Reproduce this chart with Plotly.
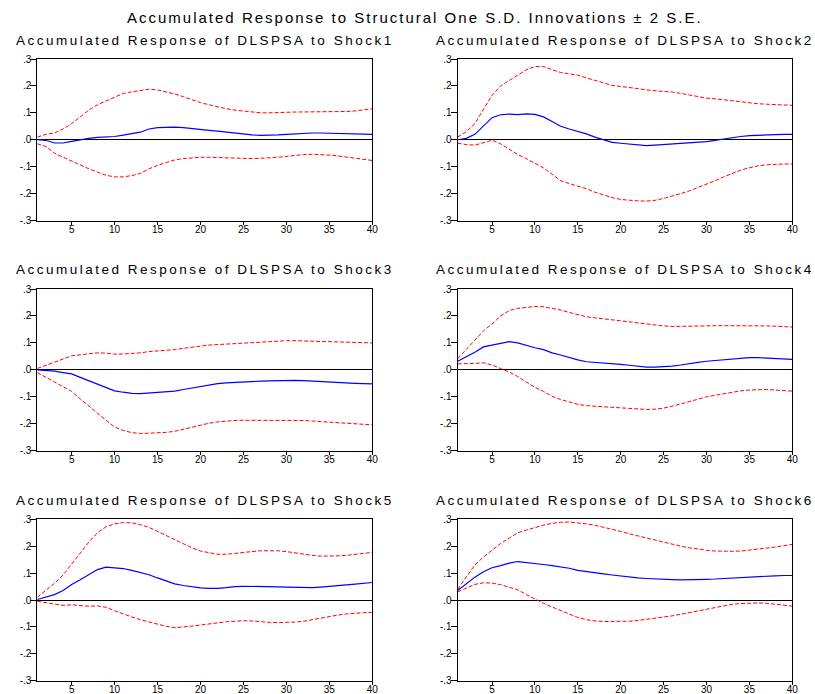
import plotly.graph_objects as go

periods = list(range(1, 41))

main_title = "Accumulated Response to Structural One S.D. Innovations ± 2 S.E."
panel_titles = [
    "Accumulated Response of DLSPSA to Shock1",
    "Accumulated Response of DLSPSA to Shock2",
    "Accumulated Response of DLSPSA to Shock3",
    "Accumulated Response of DLSPSA to Shock4",
    "Accumulated Response of DLSPSA to Shock5",
    "Accumulated Response of DLSPSA to Shock6",
]

y_tickvals = [0.3, 0.2, 0.1, 0.0, -0.1, -0.2, -0.3]
y_ticktext = [".3", ".2", ".1", ".0", "-.1", "-.2", "-.3"]
x_tickvals = [5, 10, 15, 20, 25, 30, 35, 40]

# Shock1
resp1 = [0.0, -0.002, -0.012, -0.012, -0.006, 0.0, 0.005, 0.009, 0.01, 0.012,
         0.017, 0.022, 0.028, 0.04, 0.045, 0.046, 0.047, 0.045, 0.041, 0.038,
         0.035, 0.032, 0.028, 0.025, 0.021, 0.018, 0.016, 0.016, 0.018, 0.02,
         0.022, 0.024, 0.025, 0.025, 0.024, 0.023, 0.021, 0.02, 0.02, 0.02]
upper1 = [0.01, 0.02, 0.025, 0.04, 0.06, 0.085, 0.11, 0.13, 0.145, 0.16,
          0.172, 0.178, 0.183, 0.188, 0.185, 0.178, 0.17, 0.16, 0.148, 0.138,
          0.13, 0.122, 0.115, 0.11, 0.106, 0.103, 0.1, 0.1, 0.1, 0.102,
          0.103, 0.103, 0.103, 0.103, 0.103, 0.103, 0.105, 0.107, 0.11, 0.115]
lower1 = [-0.015, -0.025, -0.05, -0.065, -0.08, -0.095, -0.108, -0.12, -0.132, -0.138,
          -0.138, -0.133, -0.125, -0.108, -0.095, -0.085, -0.075, -0.07, -0.067, -0.065,
          -0.065, -0.066, -0.068, -0.069, -0.07, -0.07, -0.069, -0.068, -0.065, -0.062,
          -0.058, -0.055, -0.054, -0.055, -0.057, -0.06, -0.064, -0.068, -0.072, -0.077]

# Shock2
resp2 = [0.0, 0.005, 0.02, 0.05, 0.082, 0.093, 0.095, 0.093, 0.096, 0.094,
         0.085, 0.068, 0.05, 0.04, 0.032, 0.022, 0.01, 0.0, -0.01, -0.013,
         -0.016, -0.019, -0.022, -0.02, -0.018, -0.016, -0.014, -0.012, -0.01, -0.007,
         -0.002, 0.003, 0.008, 0.012, 0.015, 0.017, 0.018, 0.019, 0.02, 0.02]
upper2 = [0.01, 0.03, 0.06, 0.11, 0.165, 0.2, 0.22, 0.238, 0.26, 0.272,
          0.272, 0.26, 0.25, 0.245, 0.24, 0.23, 0.22, 0.21, 0.202, 0.198,
          0.195, 0.19, 0.185, 0.183, 0.18, 0.177, 0.172, 0.166, 0.16, 0.155,
          0.152, 0.148, 0.144, 0.14, 0.137, 0.134, 0.132, 0.13, 0.129, 0.128]
lower2 = [-0.013, -0.018, -0.02, -0.012, -0.002, -0.015, -0.035, -0.055, -0.07, -0.087,
          -0.105, -0.128, -0.152, -0.163, -0.172, -0.182, -0.195, -0.205, -0.215, -0.222,
          -0.225, -0.227, -0.228, -0.225, -0.218, -0.21, -0.2, -0.19, -0.178, -0.165,
          -0.152, -0.138, -0.125, -0.113, -0.104, -0.097, -0.093, -0.091, -0.09, -0.09]

# Shock3
resp3 = [0.0, -0.002, -0.005, -0.01, -0.015, -0.028, -0.04, -0.052, -0.065, -0.078,
         -0.083, -0.087, -0.088, -0.086, -0.084, -0.082, -0.079, -0.073, -0.067, -0.061,
         -0.055, -0.051, -0.048, -0.046, -0.044, -0.043, -0.042, -0.041, -0.04, -0.039,
         -0.039, -0.04, -0.042, -0.044, -0.046, -0.047, -0.048, -0.05, -0.051, -0.052]
upper3 = [0.005, 0.017, 0.028, 0.038, 0.052, 0.056, 0.06, 0.063, 0.062, 0.058,
          0.059, 0.061, 0.063, 0.068, 0.07, 0.072, 0.075, 0.08, 0.085, 0.088,
          0.092, 0.094, 0.096, 0.098, 0.099, 0.1, 0.102, 0.104, 0.106, 0.108,
          0.108, 0.107, 0.105, 0.104, 0.103, 0.102, 0.102, 0.101, 0.1, 0.1]
lower3 = [-0.01, -0.028, -0.045, -0.062, -0.08, -0.108, -0.135, -0.16, -0.187, -0.212,
          -0.225, -0.233, -0.236, -0.235, -0.234, -0.232, -0.228, -0.22, -0.212, -0.205,
          -0.198, -0.193, -0.19, -0.188, -0.187, -0.187, -0.187, -0.187, -0.186, -0.186,
          -0.187, -0.188, -0.19, -0.192, -0.194, -0.196, -0.198, -0.2, -0.202, -0.204]

# Shock4
resp4 = [0.032, 0.048, 0.065, 0.085, 0.092, 0.1, 0.105, 0.1, 0.09, 0.082,
         0.075, 0.063, 0.055, 0.045, 0.037, 0.03, 0.028, 0.025, 0.022, 0.02,
         0.017, 0.013, 0.01, 0.01, 0.011, 0.014, 0.018, 0.024, 0.028, 0.032,
         0.035, 0.038, 0.041, 0.043, 0.045, 0.045, 0.044, 0.043, 0.041, 0.039]
upper4 = [0.042, 0.075, 0.11, 0.145, 0.17, 0.2, 0.22, 0.228, 0.232, 0.235,
          0.234, 0.228, 0.222, 0.213, 0.205, 0.197, 0.193, 0.19, 0.186, 0.182,
          0.178, 0.174, 0.17, 0.166, 0.163, 0.161, 0.161, 0.161, 0.162, 0.163,
          0.164, 0.164, 0.164, 0.164, 0.165, 0.164, 0.163, 0.162, 0.161, 0.159]
lower4 = [0.022, 0.022, 0.024, 0.026, 0.018, 0.005, -0.008, -0.025, -0.045, -0.065,
          -0.08, -0.098, -0.11, -0.12, -0.128, -0.133, -0.135, -0.136, -0.138, -0.14,
          -0.142, -0.145, -0.147, -0.146, -0.142, -0.135, -0.127, -0.118, -0.109, -0.1,
          -0.094, -0.088, -0.083, -0.078, -0.075, -0.074, -0.073, -0.075, -0.077, -0.079]

# Shock5
resp5 = [0.002, 0.01, 0.02, 0.035, 0.058, 0.075, 0.093, 0.113, 0.122, 0.12,
         0.117, 0.11, 0.102, 0.094, 0.082, 0.07, 0.06, 0.054, 0.049, 0.045,
         0.043, 0.043, 0.046, 0.05, 0.051, 0.051, 0.051, 0.05, 0.049, 0.048,
         0.047, 0.046, 0.046, 0.048, 0.05, 0.053, 0.056, 0.059, 0.062, 0.065]
upper5 = [0.01, 0.035, 0.062, 0.093, 0.135, 0.175, 0.215, 0.25, 0.272, 0.283,
          0.288, 0.287, 0.28, 0.27, 0.255, 0.237, 0.222, 0.208, 0.194, 0.182,
          0.175, 0.17, 0.17, 0.174, 0.177, 0.18, 0.183, 0.184, 0.183, 0.18,
          0.175, 0.17, 0.166, 0.163, 0.163, 0.164, 0.166, 0.169, 0.173, 0.177]
lower5 = [-0.005, -0.01, -0.016, -0.02, -0.018, -0.021, -0.023, -0.022, -0.027, -0.04,
          -0.052, -0.063, -0.073, -0.082, -0.09, -0.098, -0.103, -0.101, -0.097, -0.093,
          -0.088, -0.085, -0.081, -0.078, -0.077, -0.078, -0.081, -0.083, -0.084, -0.084,
          -0.082, -0.079, -0.073, -0.067, -0.061, -0.056, -0.052, -0.049, -0.047, -0.046]

# Shock6
resp6 = [0.035, 0.06, 0.085, 0.105, 0.12, 0.128, 0.137, 0.143, 0.14, 0.135,
         0.132, 0.128, 0.124, 0.118, 0.11, 0.105, 0.1, 0.097, 0.093, 0.089,
         0.085, 0.082, 0.08, 0.078, 0.077, 0.076, 0.075, 0.075, 0.076, 0.077,
         0.078, 0.08, 0.082, 0.084, 0.086, 0.088, 0.089, 0.09, 0.091, 0.091]
upper6 = [0.04, 0.085, 0.13, 0.16, 0.185, 0.21, 0.23, 0.25, 0.26, 0.27,
          0.278, 0.285, 0.289, 0.29, 0.287, 0.283, 0.278, 0.271, 0.263, 0.255,
          0.246, 0.238, 0.23, 0.222, 0.215, 0.207, 0.2, 0.194, 0.189, 0.185,
          0.182, 0.181, 0.181, 0.182, 0.185, 0.189, 0.193, 0.197, 0.202, 0.207]
lower6 = [0.03, 0.045, 0.058, 0.064, 0.063, 0.057, 0.048, 0.038, 0.02, 0.003,
          -0.012, -0.026, -0.04, -0.053, -0.065, -0.073, -0.078, -0.08, -0.08, -0.08,
          -0.079, -0.076, -0.072, -0.068, -0.064, -0.059, -0.053, -0.047, -0.04, -0.033,
          -0.027, -0.021, -0.016, -0.013, -0.011, -0.011, -0.012, -0.015, -0.019, -0.023]

responses = [resp1, resp2, resp3, resp4, resp5, resp6]
uppers = [upper1, upper2, upper3, upper4, upper5, upper6]
lowers = [lower1, lower2, lower3, lower4, lower5, lower6]

W, H = 815, 694
col_x = [(37.3, 372.3), (457.7, 792.3)]
row_y = [(59, 220.5), (289, 450.7), (519.3, 680.7)]
FONT = "Liberation Sans, Arial, sans-serif"

fig = go.Figure()
layout = dict(
    template="none",
    width=W, height=H, autosize=False,
    margin=dict(l=0, r=0, t=0, b=0, pad=0, autoexpand=False),
    paper_bgcolor="white", plot_bgcolor="white",
    showlegend=False,
    font=dict(family=FONT, color="black"),
)
annotations = []

annotations.append(dict(
    text='<span style="letter-spacing:2px">' + main_title + "</span>",
    x=415 / W, y=1 - 17.5 / H, xref="paper", yref="paper",
    showarrow=False, xanchor="center", yanchor="middle",
    font=dict(size=15, family=FONT, color="black"),
))

for i in range(6):
    r, c = divmod(i, 2)
    idx = "" if i == 0 else str(i + 1)
    xa, ya = "x" + idx, "y" + idx
    x0, x1 = col_x[c]
    y0, y1 = row_y[r]
    layout["xaxis" + idx] = dict(
        domain=[x0 / W, x1 / W], anchor=ya, range=[1, 40], automargin=False,
        tickmode="array", tickvals=x_tickvals, ticks="outside", ticklen=3,
        tickwidth=1, tickcolor="black", ticklabelstandoff=-4,
        showline=True, mirror=True, linecolor="black", linewidth=1,
        showgrid=False, zeroline=False,
        tickfont=dict(size=10, color="black", family=FONT),
    )
    layout["yaxis" + idx] = dict(
        domain=[1 - y1 / H, 1 - y0 / H], anchor=xa, range=[-0.3, 0.3], automargin=False,
        tickmode="array", tickvals=y_tickvals, ticktext=y_ticktext,
        ticks="outside", ticklen=6, tickwidth=1, tickcolor="black",
        ticklabelstandoff=-3,
        showline=True, mirror=True, linecolor="black", linewidth=1,
        showgrid=False, zeroline=True, zerolinecolor="black", zerolinewidth=1,
        tickfont=dict(size=10, color="black", family=FONT),
    )
    fig.add_trace(go.Scatter(x=periods, y=uppers[i], mode="lines", xaxis=xa, yaxis=ya,
                             line=dict(color="#ff0000", width=1, dash="4px,2px")))
    fig.add_trace(go.Scatter(x=periods, y=lowers[i], mode="lines", xaxis=xa, yaxis=ya,
                             line=dict(color="#ff0000", width=1, dash="4px,2px")))
    fig.add_trace(go.Scatter(x=periods, y=responses[i], mode="lines", xaxis=xa, yaxis=ya,
                             line=dict(color="#0000ff", width=1.2)))
    annotations.append(dict(
        text='<span style="letter-spacing:2.5px">' + panel_titles[i] + "</span>",
        x=((x0 + x1) / 2) / W, y=1 - (y0 - 19) / H, xref="paper", yref="paper",
        showarrow=False, xanchor="center", yanchor="middle",
        font=dict(size=13.5, family=FONT, color="black"),
    ))

layout["annotations"] = annotations
fig.update_layout(**layout)
fig.write_html(
    "out.html",
    config={"displayModeBar": False},
    post_script="document.body.style.margin='0';document.body.style.overflow='hidden';",
)
